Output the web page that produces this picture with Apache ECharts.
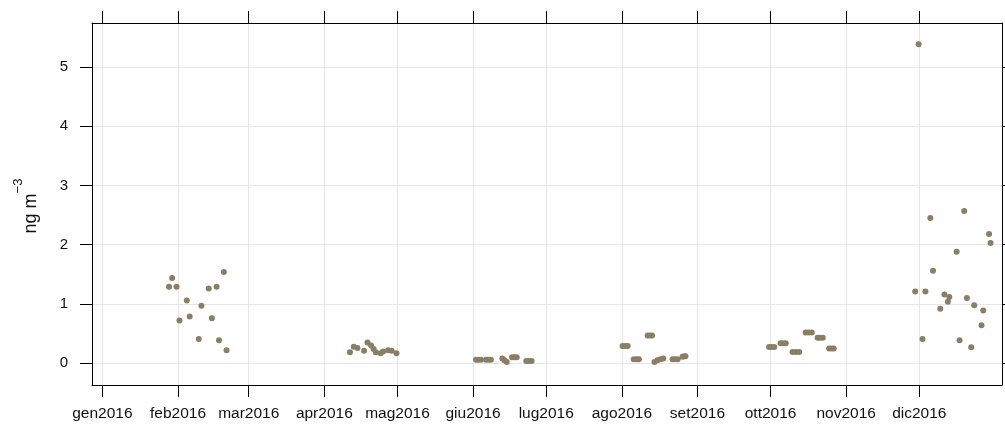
<!DOCTYPE html>
<html>
<head>
<meta charset="utf-8">
<script src="https://cdn.jsdelivr.net/npm/echarts@6/dist/echarts.min.js"></script>
<style>
html,body{margin:0;padding:0;background:#fff;}
#c{width:1005px;height:426px;}
</style>
</head>
<body>
<div id="c"></div>
<script>
// x values are days since 1 Jan 2016
const monthTicks = [0, 31, 60, 91, 121, 152, 182, 213, 244, 274, 305, 335];
const monthLabels = ['gen2016','feb2016','mar2016','apr2016','mag2016','giu2016','lug2016','ago2016','set2016','ott2016','nov2016','dic2016'];
const yTicks = [0, 1, 2, 3, 4, 5];

const febDays = [27.3, 28.6, 30.4, 31.6, 34.6, 35.8, 39.5, 40.6, 43.6, 44.9, 46.8, 47.8, 49.8, 50.9];
const febVals = [1.29, 1.44, 1.29, 0.72, 1.06, 0.79, 0.41, 0.97, 1.26, 0.76, 1.29, 0.39, 1.54, 0.22];

const mayDays = [101.5, 103.1, 104.6, 107.3, 108.7, 110.2, 111.2, 112.1, 114.1, 115.1, 117.2, 118.6, 120.6];
const mayVals = [0.185, 0.28, 0.26, 0.21, 0.35, 0.30, 0.24, 0.185, 0.17, 0.20, 0.22, 0.21, 0.17];

const junDays = [153.2, 154.2, 155.2, 157.3, 158.3, 159.3, 164.0, 164.9, 165.8, 168.0, 169.0, 169.9, 173.8, 174.9, 176.0];
const junVals = [0.06, 0.06, 0.06, 0.06, 0.06, 0.06, 0.08, 0.05, 0.02, 0.10, 0.10, 0.10, 0.04, 0.04, 0.04];

const augDays = [213.3, 214.4, 215.4, 217.9, 219.0, 220.0, 223.6, 224.5, 225.4, 226.4, 227.6, 228.8, 230.0, 233.8, 234.8, 235.9, 237.9, 238.5, 239.1];
const augVals = [0.29, 0.29, 0.29, 0.07, 0.07, 0.07, 0.47, 0.47, 0.47, 0.02, 0.05, 0.07, 0.08, 0.07, 0.07, 0.07, 0.11, 0.12, 0.12];

const octDays = [273.4, 274.4, 275.5, 278.1, 279.1, 280.2, 283.0, 284.3, 285.7, 288.4, 289.6, 290.9, 293.3, 294.3, 295.4, 298.0, 299.0, 299.9];
const octVals = [0.275, 0.275, 0.275, 0.34, 0.34, 0.34, 0.19, 0.19, 0.19, 0.52, 0.52, 0.52, 0.43, 0.43, 0.43, 0.25, 0.25, 0.25];

const decDays = [333.3, 334.7, 336.3, 337.5, 339.5, 340.6, 343.6, 345.3, 346.7, 347.3, 350.3, 351.5, 353.4, 354.5, 356.3, 357.5, 360.5, 361.2, 363.6, 364.2];
const decVals = [1.21, 5.38, 0.41, 1.21, 2.45, 1.56, 0.92, 1.16, 1.04, 1.12, 1.88, 0.39, 2.57, 1.10, 0.27, 0.98, 0.64, 0.89, 2.18, 2.03];

const groups = [[febDays, febVals], [mayDays, mayVals], [junDays, junVals], [augDays, augVals], [octDays, octVals], [decDays, decVals]];
const points = [];
groups.forEach(([d, v]) => d.forEach((x, i) => points.push([x, v[i]])));

const X_MIN = -4.27, X_MAX = 368.9, Y_MIN = -0.366, Y_MAX = 5.74;
const FONT = 'Liberation Sans, Arial, sans-serif';

function xAxis(pos, labels) {
  return {
    type: 'value', position: pos, min: X_MIN, max: X_MAX,
    axisLine: { show: true, onZero: false, lineStyle: { color: '#000', width: 1 } },
    axisTick: { show: true, inside: false, length: 12, lineStyle: { color: '#000', width: 1 }, customValues: monthTicks },
    axisLabel: { show: labels, margin: 21, fontSize: 15.5, color: '#111', fontFamily: FONT,
      customValues: monthTicks,
      formatter: v => monthLabels[monthTicks.indexOf(Math.round(v))] || '' },
    splitLine: { show: labels, lineStyle: { color: '#e6e6e6', width: 1 } }
  };
}
function yAxis(pos, labels) {
  return {
    type: 'value', position: pos, min: Y_MIN, max: Y_MAX,
    axisLine: { show: true, onZero: false, lineStyle: { color: '#000', width: 1 } },
    axisTick: { show: true, inside: false, length: 12, lineStyle: { color: '#000', width: 1 }, customValues: yTicks },
    axisLabel: { show: labels, margin: 24, fontSize: 15, color: '#111', fontFamily: FONT, customValues: yTicks },
    splitLine: { show: labels, lineStyle: { color: '#e6e6e6', width: 1 } }
  };
}

const chart = echarts.init(document.getElementById('c'));
chart.setOption({
  animation: false,
  backgroundColor: '#fff',
  grid: { left: 92, right: 3, top: 23, bottom: 41, containLabel: false },
  xAxis: [xAxis('bottom', true), xAxis('top', false)],
  yAxis: [yAxis('left', true), yAxis('right', false)],
  graphic: [{
    type: 'text', x: 26, y: 206, rotation: Math.PI / 2,
    style: {
      text: '{a|ng m}{b|\u22123}', align: 'center', verticalAlign: 'middle',
      rich: {
        a: { fontSize: 18, fontFamily: FONT, fill: '#111', lineHeight: 28, verticalAlign: 'bottom' },
        b: { fontSize: 13, fontFamily: FONT, fill: '#111', lineHeight: 15, verticalAlign: 'top' }
      }
    }
  }],
  series: [{
    type: 'scatter', xAxisIndex: 0, yAxisIndex: 0,
    data: points, symbol: 'circle', symbolSize: 6,
    itemStyle: { color: '#8B7E66', opacity: 1 },
    emphasis: { disabled: true }
  }]
});
</script>
</body>
</html>
